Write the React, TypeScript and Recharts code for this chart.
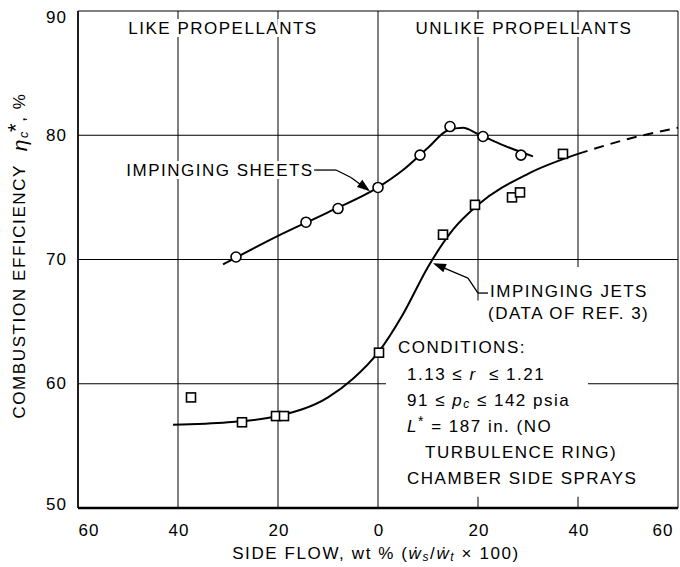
import {
  ComposedChart,
  Line,
  Scatter,
  XAxis,
  YAxis,
  CartesianGrid,
  ReferenceLine,
  ReferenceDot,
  ReferenceArea,
} from 'recharts'

const FONT = '"Liberation Sans", Arial, sans-serif'

// x is signed side flow: negative = like propellants, positive = unlike
const xTicks = [-60, -40, -20, 0, 20, 40, 60]
const yTicks = [50, 60, 70, 80, 90]

// impinging sheets (circles)
const sheetX = [-28.4, -14.4, -8, 0, 8.4, 14.4, 21, 28.6]
const sheetY = [70.2, 73.0, 74.1, 75.8, 78.4, 80.7, 79.9, 78.4]
const sheetCurveX = [-31, -20, -10, 0, 5, 10, 14, 17, 20, 25, 31]
const sheetCurveY = [69.6, 71.9, 73.8, 75.8, 77.2, 79.0, 80.4, 80.6, 80.1, 79.2, 78.3]

// impinging jets (squares)
const jetX = [-37.4, -27.2, -20.4, -18.8, 0.2, 13, 19.4, 26.8, 28.4, 37]
const jetY = [58.9, 56.9, 57.4, 57.4, 62.5, 72.0, 74.4, 75.0, 75.4, 78.5]
const jetCurveX = [-41, -30, -20, -10, -5, 0, 5, 10, 15, 20, 30, 40]
const jetCurveY = [56.7, 56.9, 57.4, 58.9, 60.4, 62.5, 65.6, 69.4, 72.4, 74.4, 76.9, 78.5]
const jetDashX = [40, 50, 60]
const jetDashY = [78.5, 79.7, 80.6]

const zip = (xs: number[], ys: number[]) => xs.map((x, i) => ({ x, y: ys[i] }))

const sheetPts = zip(sheetX, sheetY)
const sheetCurve = zip(sheetCurveX, sheetCurveY)
const jetPts = zip(jetX, jetY)
const jetCurve = zip(jetCurveX, jetCurveY)
const jetDash = zip(jetDashX, jetDashY)

// eslint-disable-next-line @typescript-eslint/no-explicit-any
const CircleMark = (p: any) => (
  <circle cx={p.cx} cy={p.cy} r={5} fill="#fff" stroke="#000" strokeWidth={1.6} />
)
// eslint-disable-next-line @typescript-eslint/no-explicit-any
const SquareMark = (p: any) => (
  <rect x={p.cx - 4.5} y={p.cy - 4.5} width={9} height={9} fill="#fff" stroke="#000" strokeWidth={1.6} />
)

function arrowHead(angle: number) {
  // eslint-disable-next-line @typescript-eslint/no-explicit-any
  return (p: any) => (
    <polygon
      points="0,0 -13,-4.5 -13,4.5"
      fill="#000"
      transform={`translate(${p.cx},${p.cy}) rotate(${angle})`}
    />
  )
}

const tickStyle = { fontFamily: FONT, fontSize: 17, letterSpacing: 1, fill: '#000' }

// end labels sit inside the frame, like the original lettering
// eslint-disable-next-line @typescript-eslint/no-explicit-any
const XTick = (p: any) => {
  const v = p.payload.value
  const shift = v === -60 ? 11 : v === 60 ? -9 : 1
  return (
    <text x={p.x + shift} y={p.y + 14} textAnchor="middle" dominantBaseline="central" style={tickStyle}>
      {Math.abs(v)}
    </text>
  )
}
// eslint-disable-next-line @typescript-eslint/no-explicit-any
const YTick = (p: any) => {
  const v = p.payload.value
  const shift = v === 90 ? 6 : v === 50 ? -4 : 0
  return (
    <text x={p.x - 3} y={p.y + shift} textAnchor="end" dominantBaseline="central" style={tickStyle}>
      {v}
    </text>
  )
}

const textStyle = {
  fontFamily: FONT,
  fontSize: 17,
  letterSpacing: 1.5,
  fill: '#000',
  stroke: '#fff',
  strokeWidth: 6,
  paintOrder: 'stroke',
} as React.CSSProperties

function textShape(lines: React.ReactNode[], anchor: 'start' | 'middle' = 'middle', lineGap = 26) {
  // eslint-disable-next-line @typescript-eslint/no-explicit-any
  return (p: any) => (
    <g>
      {lines.map((l, i) => (
        <text key={i} x={p.cx} y={p.cy + i * lineGap} textAnchor={anchor} dominantBaseline="central" style={textStyle}>
          {l}
        </text>
      ))}
    </g>
  )
}

const it = { fontStyle: 'italic' as const }

const conditions = [
  'CONDITIONS:',
  <tspan key="r" dx={9}>
    1.13 ≤ <tspan style={it}>r</tspan> &nbsp;≤ 1.21
  </tspan>,
  <tspan key="p" dx={9}>
    91 ≤ <tspan style={it}>p</tspan>
    <tspan style={it} fontSize={12} dy={4}>c</tspan>
    <tspan dy={-4}> ≤ 142 psia</tspan>
  </tspan>,
  <tspan key="l" dx={9}>
    <tspan style={it}>L</tspan>
    <tspan fontSize={14} dy={-5}>*</tspan>
    <tspan dy={5}> = 187 in. (NO</tspan>
  </tspan>,
  <tspan key="t" dx={27}>TURBULENCE RING)</tspan>,
  <tspan key="c" dx={9}>CHAMBER SIDE SPRAYS</tspan>,
]

// eslint-disable-next-line @typescript-eslint/no-explicit-any
const YLabel = (props: any) => {
  const vb = props.viewBox || { x: 0, y: 11, height: 497 }
  const cx = 19
  const cy = vb.y + vb.height / 2 - 4
  return (
    <text
      x={cx}
      y={cy}
      transform={`rotate(-90, ${cx}, ${cy})`}
      textAnchor="middle"
      dominantBaseline="central"
      style={{ fontFamily: FONT, fontSize: 17, letterSpacing: 1.6, fill: '#000' }}
    >
      COMBUSTION EFFICIENCY&nbsp;&nbsp;
      <tspan style={it} fontSize={21}>η</tspan>
      <tspan style={it} fontSize={13} dy={4}>c</tspan>
      <tspan fontSize={22} dx={-2} dy={-8}>*</tspan>
      <tspan dy={4}>, %</tspan>
    </text>
  )
}

// eslint-disable-next-line @typescript-eslint/no-explicit-any
const XLabel = (props: any) => {
  const vb = props.viewBox || { x: 78, width: 600 }
  return (
    <text
      x={vb.x + vb.width / 2 - 2}
      y={553}
      textAnchor="middle"
      dominantBaseline="central"
      style={{ fontFamily: FONT, fontSize: 17, letterSpacing: 1.6, fill: '#000' }}
    >
      SIDE FLOW, wt % (<tspan style={it}>ẇ</tspan>
      <tspan style={it} fontSize={12} dy={4}>s</tspan>
      <tspan dy={-4}>/</tspan>
      <tspan style={it}>ẇ</tspan>
      <tspan style={it} fontSize={12} dy={4}>t</tspan>
      <tspan dy={-4}> × 100)</tspan>
    </text>
  )
}

export default function App() {
  return (
    <div style={{ position: 'absolute', left: 0, top: 0, background: '#fff' }}>
      <ComposedChart width={680} height={567} margin={{ top: 11, right: 2, bottom: 0, left: 0 }}>
        <CartesianGrid stroke="#000" strokeWidth={1} />
        <XAxis
          type="number"
          dataKey="x"
          domain={[-60, 60]}
          ticks={xTicks}
          height={59}
          tickLine={false}
          axisLine={{ stroke: '#000', strokeWidth: 2.5 }}
          tick={XTick}
          label={{ content: XLabel }}
        />
        <YAxis
          type="number"
          dataKey="y"
          domain={[50, 90]}
          ticks={yTicks}
          width={78}
          tickLine={false}
          axisLine={{ stroke: '#000', strokeWidth: 1.5 }}
          tick={YTick}
          label={{ content: YLabel }}
        />

        {/* white patches behind the lettering, as in the original drawing */}
        <ReferenceArea x1={1.6} x2={42} y1={50.9} y2={66.7} fill="#fff" fillOpacity={1} stroke="none" />
        <ReferenceArea x1={21} x2={42} y1={66} y2={69.4} fill="#fff" fillOpacity={1} stroke="none" />

        <Line data={sheetCurve} dataKey="y" type="monotone" stroke="#000" strokeWidth={2} dot={false} isAnimationActive={false} />
        <Line data={jetCurve} dataKey="y" type="monotone" stroke="#000" strokeWidth={2} dot={false} isAnimationActive={false} />
        <Line data={jetDash} dataKey="y" type="monotone" stroke="#000" strokeWidth={2} strokeDasharray="10 7" dot={false} isAnimationActive={false} />
        <Scatter data={sheetPts} dataKey="y" shape={CircleMark} isAnimationActive={false} />
        <Scatter data={jetPts} dataKey="y" shape={SquareMark} isAnimationActive={false} />

        {/* leader for impinging sheets */}
        <ReferenceLine segment={[{ x: -12.8, y: 77.2 }, { x: -8.4, y: 77.2 }]} stroke="#000" strokeWidth={1.3} />
        <ReferenceLine segment={[{ x: -8.4, y: 77.2 }, { x: -5.4, y: 76.6 }]} stroke="#000" strokeWidth={1.3} />
        <ReferenceLine segment={[{ x: -5.4, y: 76.6 }, { x: -2.0, y: 75.6 }]} stroke="#000" strokeWidth={1.3} />
        <ReferenceDot x={-1.6} y={75.5} r={0} shape={arrowHead(37)} />

        {/* leader for impinging jets */}
        <ReferenceLine segment={[{ x: 22, y: 67.3 }, { x: 20, y: 67.3 }]} stroke="#000" strokeWidth={1.3} />
        <ReferenceLine segment={[{ x: 20, y: 67.3 }, { x: 18, y: 68.5 }]} stroke="#000" strokeWidth={1.3} />
        <ReferenceLine segment={[{ x: 18, y: 68.5 }, { x: 11.5, y: 69.6 }]} stroke="#000" strokeWidth={1.3} />
        <ReferenceDot x={11.0} y={69.7} r={0} shape={arrowHead(202)} />

        <ReferenceDot x={-31} y={88.6} r={0} shape={textShape(['LIKE PROPELLANTS'])} />
        <ReferenceDot x={29.2} y={88.6} r={0} shape={textShape(['UNLIKE PROPELLANTS'])} />
        <ReferenceDot x={-31.6} y={77.2} r={0} shape={textShape(['IMPINGING SHEETS'])} />
        <ReferenceDot x={22.4} y={67.4} r={0} shape={textShape(['IMPINGING JETS', <tspan key="d" dx={-2}>(DATA OF REF. 3)</tspan>], 'start', 21)} />
        <ReferenceDot x={4} y={62.9} r={0} shape={textShape(conditions, 'start', 26)} />
      </ComposedChart>
    </div>
  )
}
